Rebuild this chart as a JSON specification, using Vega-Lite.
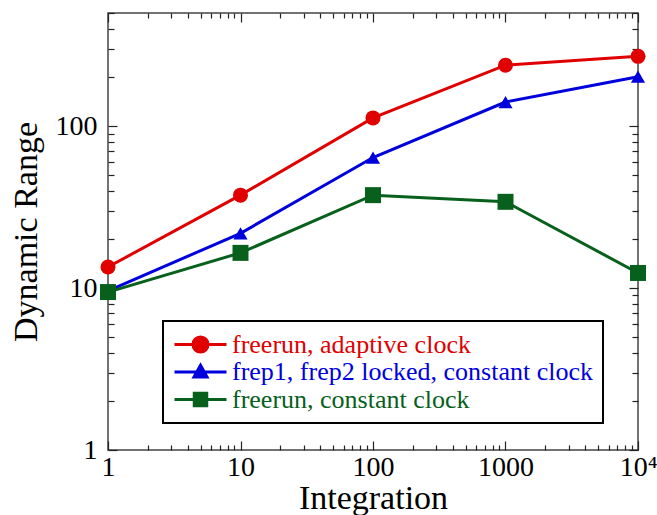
{
  "$schema": "https://vega.github.io/schema/vega-lite/v6.json",
  "width": 530,
  "height": 437,
  "autosize": "none",
  "padding": {"left": 108, "top": 13, "right": 19, "bottom": 65},
  "background": "white",
  "config": {
    "view": {"stroke": "#444", "strokeWidth": 1.5},
    "font": "Liberation Serif",
    "axis": {"domainColor": "#444", "domainWidth": 1.5, "tickColor": "#222", "tickWidth": 1.2, "grid": false}
  },
  "data": {
    "values": [
      {"series": "freerun, adaptive clock", "integration": 1, "range": 13.5},
      {"series": "freerun, adaptive clock", "integration": 10, "range": 37.5},
      {"series": "freerun, adaptive clock", "integration": 100, "range": 112.5},
      {"series": "freerun, adaptive clock", "integration": 1000, "range": 238},
      {"series": "freerun, adaptive clock", "integration": 10000, "range": 270},
      {"series": "frep1, frep2 locked, constant clock", "integration": 1, "range": 9.6},
      {"series": "frep1, frep2 locked, constant clock", "integration": 10, "range": 21.8},
      {"series": "frep1, frep2 locked, constant clock", "integration": 100, "range": 64},
      {"series": "frep1, frep2 locked, constant clock", "integration": 1000, "range": 141},
      {"series": "frep1, frep2 locked, constant clock", "integration": 10000, "range": 202},
      {"series": "freerun, constant clock", "integration": 1, "range": 9.45},
      {"series": "freerun, constant clock", "integration": 10, "range": 16.5},
      {"series": "freerun, constant clock", "integration": 100, "range": 37.5},
      {"series": "freerun, constant clock", "integration": 1000, "range": 34.1},
      {"series": "freerun, constant clock", "integration": 10000, "range": 12.4}
    ]
  },
  "layer": [
    {
      "mark": {"type": "point", "opacity": 0},
      "encoding": {
        "x": {
          "field": "integration", "type": "quantitative",
          "scale": {"type": "log", "domain": [1, 10000]},
          "axis": {
            "orient": "top", "title": null, "labels": false, "domain": false,
            "values": [1,2,3,4,5,6,7,8,9,10,20,30,40,50,60,70,80,90,100,200,300,400,500,600,700,800,900,1000,2000,3000,4000,5000,6000,7000,8000,9000,10000],
            "tickSize": {"condition": {"test": "indexof([1,10,100,1000,10000], datum.value) >= 0", "value": -9}, "value": -5}
          }
        },
        "y": {
          "field": "range", "type": "quantitative",
          "scale": {"type": "log", "domain": [1, 500]},
          "axis": {
            "orient": "right", "title": null, "labels": false, "domain": false,
            "values": [1,2,3,4,5,6,7,8,9,10,20,30,40,50,60,70,80,90,100,200,300,400,500],
            "tickSize": {"condition": {"test": "indexof([1,10,100], datum.value) >= 0", "value": -9}, "value": -6}
          }
        }
      }
    },
    {
      "mark": {"type": "line", "strokeWidth": 3},
      "encoding": {
        "x": {
          "field": "integration", "type": "quantitative",
          "scale": {"type": "log", "domain": [1, 10000]},
          "axis": {
            "orient": "bottom", "title": "Integration", "domain": false,
            "values": [1,2,3,4,5,6,7,8,9,10,20,30,40,50,60,70,80,90,100,200,300,400,500,600,700,800,900,1000,2000,3000,4000,5000,6000,7000,8000,9000,10000],
            "format": "d",
            "labelExpr": "datum.value == 10000 ? '10⁴' : (indexof([1,10,100,1000], datum.value) >= 0 ? datum.label : '')",
            "labelFlush": false, "labelOverlap": false, "labelBound": false,
            "labelFont": "Liberation Serif", "labelFontSize": 28, "labelColor": "black", "labelPadding": 12,
            "titleFont": "Liberation Serif", "titleFontSize": 34, "titleFontWeight": "normal", "titleColor": "black", "titlePadding": -4,
            "tickSize": {"condition": {"test": "indexof([1,10,100,1000,10000], datum.value) >= 0", "value": -9}, "value": -5}
          }
        },
        "y": {
          "field": "range", "type": "quantitative",
          "scale": {"type": "log", "domain": [1, 500]},
          "axis": {
            "orient": "left", "title": "Dynamic Range", "domain": false,
            "values": [1,2,3,4,5,6,7,8,9,10,20,30,40,50,60,70,80,90,100,200,300,400,500],
            "format": "d",
            "labelExpr": "indexof([1,10,100], datum.value) >= 0 ? datum.label : ''",
            "labelOverlap": false, "labelBound": false,
            "labelFont": "Liberation Serif", "labelFontSize": 28, "labelColor": "black", "labelPadding": 20,
            "titleFont": "Liberation Serif", "titleFontSize": 34, "titleFontWeight": "normal", "titleColor": "black", "titlePadding": 12,
            "tickSize": {"condition": {"test": "indexof([1,10,100], datum.value) >= 0", "value": -9}, "value": -6}
          }
        },
        "color": {
          "field": "series", "type": "nominal",
          "scale": {
            "domain": ["freerun, adaptive clock", "frep1, frep2 locked, constant clock", "freerun, constant clock"],
            "range": ["#e00000", "#0000dd", "#07601b"]
          },
          "legend": {
            "title": null,
            "orient": "none", "legendX": 55, "legendY": 308,
            "direction": "vertical",
            "strokeColor": "black", "fillColor": "white", "padding": 10,
            "labelFont": "Liberation Serif", "labelFontSize": 26, "labelLimit": 0, "labelOffset": 4,
            "symbolSize": 2704, "symbolStrokeWidth": 3, "clipHeight": 27, "rowPadding": 0.5,
            "encode": {
              "legend": {"update": {"strokeWidth": {"value": 2}}},
              "labels": {"update": {"fill": {"scale": "color", "field": "value"}}},
              "symbols": {"update": {
                "shape": {"signal": "datum.value === 'freerun, adaptive clock' ? 'M-1,0H1M0.29,0A0.29,0.29 0 1,1 -0.29,0A0.29,0.29 0 1,1 0.29,0Z' : (datum.value === 'freerun, constant clock' ? 'M-1,0H1M-0.24,-0.24H0.24V0.24H-0.24Z' : 'M-1,0H1M0,-0.26L0.25,0.19L-0.25,0.19Z')"},
                "size": {"value": 2704},
                "fill": {"scale": "color", "field": "value"},
                "stroke": {"scale": "color", "field": "value"},
                "strokeWidth": {"value": 3},
                "opacity": {"value": 1},
                "fillOpacity": {"value": 1},
                "strokeOpacity": {"value": 1}
              }}
            }
          }
        },
        "order": {"field": "integration", "type": "quantitative"}
      }
    },
    {
      "transform": [{"filter": "datum.series === 'freerun, adaptive clock'"}],
      "mark": {"type": "point", "filled": true, "opacity": 1, "shape": "circle", "size": 225},
      "encoding": {
        "x": {"field": "integration", "type": "quantitative", "scale": {"type": "log", "domain": [1, 10000]}, "axis": null},
        "y": {"field": "range", "type": "quantitative", "scale": {"type": "log", "domain": [1, 500]}, "axis": null},
        "color": {"field": "series", "type": "nominal"}
      }
    },
    {
      "transform": [{"filter": "datum.series === 'frep1, frep2 locked, constant clock'"}],
      "mark": {"type": "point", "filled": true, "opacity": 1, "shape": "triangle-up", "size": 200},
      "encoding": {
        "x": {"field": "integration", "type": "quantitative", "scale": {"type": "log", "domain": [1, 10000]}, "axis": null},
        "y": {"field": "range", "type": "quantitative", "scale": {"type": "log", "domain": [1, 500]}, "axis": null},
        "color": {"field": "series", "type": "nominal"}
      }
    },
    {
      "transform": [{"filter": "datum.series === 'freerun, constant clock'"}],
      "mark": {"type": "point", "filled": true, "opacity": 1, "shape": "square", "size": 256},
      "encoding": {
        "x": {"field": "integration", "type": "quantitative", "scale": {"type": "log", "domain": [1, 10000]}, "axis": null},
        "y": {"field": "range", "type": "quantitative", "scale": {"type": "log", "domain": [1, 500]}, "axis": null},
        "color": {"field": "series", "type": "nominal"}
      }
    }
  ],
  "resolve": {"axis": {"x": "independent", "y": "independent"}}
}
